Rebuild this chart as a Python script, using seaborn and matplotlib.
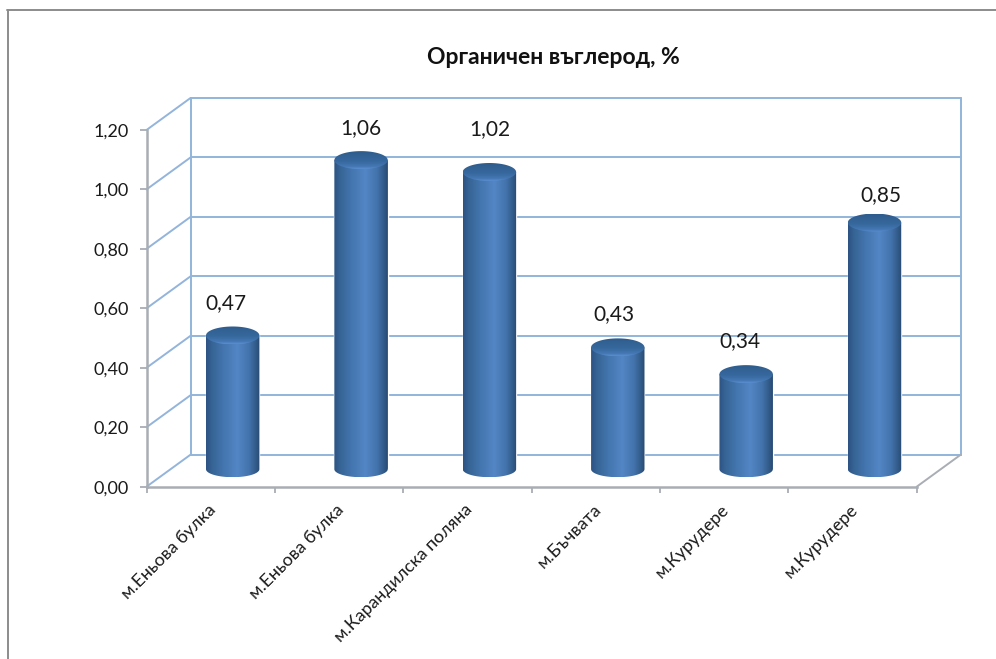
import numpy as np
import matplotlib
matplotlib.use("Agg")
import matplotlib.pyplot as plt
from matplotlib.image import AxesImage
from matplotlib.lines import Line2D
from matplotlib.path import Path
from matplotlib.transforms import Affine2D, IdentityTransform
from matplotlib.colors import LinearSegmentedColormap
import seaborn as sns

# ---- data -------------------------------------------------------------
title = "Органичен въглерод, %"
categories = ["м.Еньова булка", "м.Еньова булка", "м.Карандилска поляна",
              "м.Бъчвата", "м.Курудере", "м.Курудере"]
values = [0.47, 1.06, 1.02, 0.43, 0.34, 0.85]
value_labels = ["0,47", "1,06", "1,02", "0,43", "0,34", "0,85"]
y_ticks = [0.0, 0.2, 0.4, 0.6, 0.8, 1.0, 1.2]
y_tick_labels = ["0,00", "0,20", "0,40", "0,60", "0,80", "1,00", "1,20"]

# ---- layout / style ---------------------------------------------------
W, H = 996, 659
FONT = ["Lato", "Open Sans", "DejaVu Sans"]
sns.set_theme(style="white")
plt.rcParams["font.family"] = FONT
WALL = "#93b4db"
AXIS = "#a9aeb4"
FRAME = "#8c8c8c"
TEXT = "#1a1a1a"
DEPTH = (44, 32)          # back wall offset, px
BAR_SHIFT = (22, 11.5)    # bar offset, px
BASE_LIFT = 6             # base ellipse centre above data zero, px
TOP_RY, BASE_RY = 9, 8
label_dx = [-7, 0, 0, -4, -6, 6]
label_dy = [32, 32, 43, 33, 33, 27]

fig = plt.figure(figsize=(W / 100, H / 100), dpi=100, facecolor="white")
ax = fig.add_axes([146.5 / W, (H - 486.7) / H, 770.2 / W, 356.7 / H])
ax.patch.set_visible(False)

sns.barplot(x=list(range(len(values))), y=values, color="#4a7bb7",
            width=0.416, saturation=1, ax=ax, zorder=3)
ax.set_xlim(-0.5, 5.5)
ax.set_ylim(0, 1.2)

# ---- axes -------------------------------------------------------------
ax.set_xticks(range(len(categories)))
ax.set_xticklabels(categories, rotation=45, ha="right", va="top",
                   rotation_mode="anchor", fontsize=12.8, color=TEXT)
ax.set_xticks(np.arange(-0.5, 6.0, 1), minor=True)
ax.tick_params(axis="x", which="major", length=0, pad=10.5)
ax.tick_params(axis="x", which="minor", length=4.5, width=1.3, color=AXIS, bottom=True)
ax.set_yticks(y_ticks)
ax.set_yticklabels(y_tick_labels, fontsize=13, color=TEXT)
ax.tick_params(axis="y", length=5, width=1.3, color=AXIS, pad=7.5, left=True)
ax.set_xlabel("")
ax.set_ylabel("")
sns.despine(ax=ax, top=True, right=True)
for side in ("left", "bottom"):
    ax.spines[side].set_color(AXIS)
    ax.spines[side].set_linewidth(1.8)
for lab in ax.get_xticklabels():
    lab.set_transform(lab.get_transform() + Affine2D().translate(-3, 0))

# ---- back wall and floor ---------------------------------------------
px = IdentityTransform()
dx, dy = DEPTH
back = ax.transData + Affine2D().translate(dx, dy)
for t in y_ticks:
    ax.plot([-0.5, 5.5], [t, t], transform=back, color=WALL, lw=1.4,
            clip_on=False, zorder=1)
    x0, y0 = ax.transData.transform((-0.5, t))
    ax.add_line(Line2D([x0, x0 + dx], [y0, y0 + dy], transform=px, color=WALL,
                       lw=1.4, clip_on=False, zorder=1))
for xv in (-0.5, 5.5):
    ax.plot([xv, xv], [0, 1.2], transform=back, color=WALL, lw=1.4,
            clip_on=False, zorder=1)
x0, y0 = ax.transData.transform((5.5, 0))
ax.add_line(Line2D([x0, x0 + dx], [y0, y0 + dy], transform=px, color=AXIS,
                   lw=1.4, clip_on=False, zorder=1))

# ---- cylinders --------------------------------------------------------
body_cmap = LinearSegmentedColormap.from_list("body", [
    (0.00, "#2c5283"), (0.10, "#356393"), (0.32, "#4375ae"), (0.58, "#5386c5"),
    (0.80, "#4373ac"), (0.93, "#315a88"), (1.00, "#294a70")])
top_cmap = LinearSegmentedColormap.from_list("top", [
    (0.00, "#2e5c8c"), (0.60, "#38699f"), (0.88, "#4679b6"), (1.00, "#5a8fd0")])
bar_tr = ax.transData + Affine2D().translate(*BAR_SHIFT)
theta = np.linspace(0, np.pi, 60)
base_val = BASE_LIFT / (ax.transData.transform((0, 1))[1] - ax.transData.transform((0, 0))[1])

for i, bar in enumerate(ax.patches):
    v = bar.get_height()
    bar.set_y(base_val)
    bar.set_height(v - base_val)
    bar.set_transform(bar_tr)
    (xl, yb), (xr, yt) = bar_tr.transform([(bar.get_x(), base_val),
                                           (bar.get_x() + bar.get_width(), v)])
    cx, rx = (xl + xr) / 2, (xr - xl) / 2

    # body: sides plus the rounded base
    bx = cx - rx * np.cos(theta)
    by = yb - BASE_RY * np.sin(theta)
    verts = np.vstack([np.column_stack([bx, by]), [xr, yt], [xl, yt], [bx[0], by[0]]])
    im = AxesImage(ax, interpolation="bilinear", cmap=body_cmap, norm=plt.Normalize(0, 1),
                   extent=(xl, xr, yb - BASE_RY, yt), transform=px, zorder=4)
    im.set_data(np.linspace(0, 1, 256).reshape(1, -1))
    ax.add_artist(im)
    im.set_clip_path(Path(verts), px)

    # top cap
    tt = np.linspace(0, 2 * np.pi, 90)
    cap = np.column_stack([cx + rx * np.cos(tt), yt + TOP_RY * np.sin(tt)])
    im2 = AxesImage(ax, interpolation="bilinear", cmap=top_cmap, norm=plt.Normalize(0, 1),
                    origin="lower", extent=(xl, xr, yt - TOP_RY, yt + TOP_RY),
                    transform=px, zorder=5)
    im2.set_data(np.linspace(1, 0, 64).reshape(-1, 1))
    ax.add_artist(im2)
    im2.set_clip_path(Path(cap), px)

    # value label
    ax.annotate(value_labels[i], xy=(bar.get_x() + bar.get_width() / 2, v), xycoords=bar_tr,
                xytext=(label_dx[i] * 0.72, label_dy[i] * 0.72), textcoords="offset points",
                ha="center", va="center", fontsize=15, color=TEXT, zorder=6)

# ---- title and outer frame -------------------------------------------
fig.text(553 / W, 1 - 58 / H, title, ha="center", va="center",
         fontsize=16.5, fontweight="bold", color="#111111")
fig.add_artist(Line2D([7.5 / W, 7.5 / W], [0, 1 - 10 / H], transform=fig.transFigure,
                      color=FRAME, lw=1.4))
fig.add_artist(Line2D([7 / W, 1], [1 - 10 / H, 1 - 10 / H], transform=fig.transFigure,
                      color=FRAME, lw=1.4))

fig.savefig("out.png", dpi=100, facecolor="white")
